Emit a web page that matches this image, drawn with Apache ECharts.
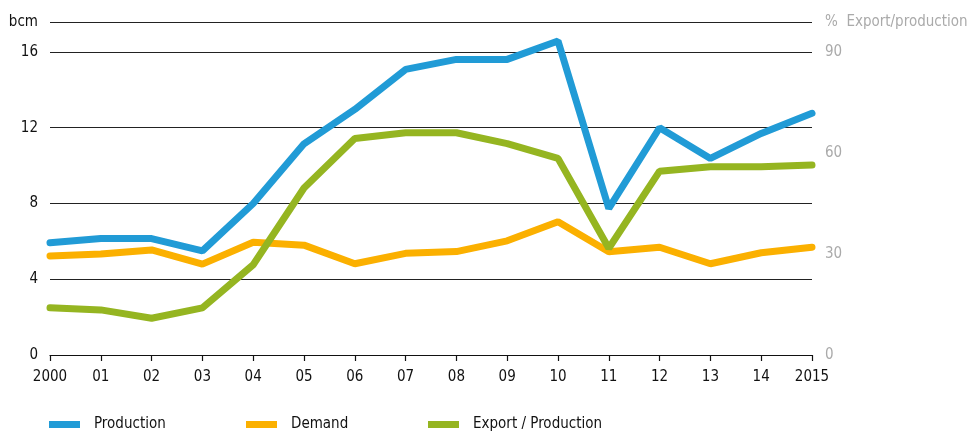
<!DOCTYPE html>
<html>
<head>
<meta charset="utf-8">
<script src="https://cdn.jsdelivr.net/npm/echarts@6/dist/echarts.min.js"></script>
<style>
html,body{margin:0;padding:0;background:#fff;}
#chart{width:971px;height:432px;}
</style>
</head>
<body>
<div id="chart"></div>
<script>
var years = ['2000','01','02','03','04','05','06','07','08','09','10','11','12','13','14','2015'];
var production = [5.93, 6.15, 6.15, 5.5, 8.0, 11.15, 12.97, 15.08, 15.61, 15.61, 16.58, 7.74, 12.0, 10.38, 11.7, 12.76];
var demand = [5.23, 5.33, 5.55, 4.8, 5.95, 5.8, 4.82, 5.37, 5.46, 6.03, 7.04, 5.45, 5.69, 4.82, 5.4, 5.69];
var exportShare = [14.0, 13.4, 10.9, 14.0, 26.8, 49.6, 64.3, 66.0, 66.0, 62.8, 58.4, 31.7, 54.6, 55.9, 55.9, 56.4];
var leftTicks = [0, 4, 8, 12, 16];
var rightTicks = [0, 30, 60, 90];
// axis tops reach the header rule above the last labelled tick
var leftTop = 17.584;
var rightTop = 98.91;

var FONT = '"Liberation Sans Narrow", "DejaVu Sans Condensed", sans-serif';
var FS = 15;
var chart = echarts.init(document.getElementById('chart'), null, {renderer: 'canvas'});

function legendFor(name, left) {
  return {
    data: [name], left: left, top: 417, padding: 0, itemWidth: 31, itemHeight: 7, itemGap: 0,
    icon: 'rect', textStyle: {fontFamily: FONT, fontSize: FS, color: '#111', padding: [0, 0, 0, 9]},
    selectedMode: false
  };
}

function tickLabel(list) {
  return function (v) { return list.indexOf(Math.round(v * 1000) / 1000) >= 0 ? String(v) : ''; };
}

chart.setOption({
  animation: false,
  textStyle: {fontFamily: FONT},
  grid: {left: 50, right: 159, top: 22, bottom: 77, outerBoundsMode: 'none', containLabel: false},
  legend: [legendFor('Production', 49), legendFor('Demand', 246), legendFor('Export / Production', 428)],
  xAxis: {
    type: 'category', data: years, boundaryGap: false,
    axisLine: {lineStyle: {color: '#111', width: 1.2}},
    axisTick: {show: true, alignWithLabel: true, length: 6, lineStyle: {color: '#111', width: 1.2}},
    axisLabel: {color: '#111', fontSize: FS, fontFamily: FONT, margin: 15, interval: 0},
    splitLine: {show: false}
  },
  yAxis: [{
    type: 'value', min: 0, max: leftTop, interval: 4,
    name: 'bcm', nameLocation: 'end', nameGap: 0,
    nameTextStyle: {align: 'right', verticalAlign: 'middle', padding: [0, 12, 0, 0], fontSize: FS, color: '#111', fontFamily: FONT},
    axisLine: {show: false}, axisTick: {show: false},
    axisLabel: {color: '#111', fontSize: FS, fontFamily: FONT, margin: 12, formatter: tickLabel(leftTicks)},
    splitLine: {lineStyle: {color: '#222', width: 1.2}}
  }, {
    type: 'value', min: 0, max: rightTop, interval: 30, position: 'right',
    name: '%  Export/production', nameLocation: 'end', nameGap: 0,
    nameTextStyle: {align: 'left', verticalAlign: 'middle', padding: [0, 0, 0, 13], fontSize: FS, color: '#aaa', fontFamily: FONT},
    axisLine: {show: false}, axisTick: {show: false},
    axisLabel: {color: '#aaa', fontSize: FS, fontFamily: FONT, margin: 13, formatter: tickLabel(rightTicks)},
    splitLine: {show: false}
  }],
  series: [{
    name: 'Production', type: 'line', data: production, yAxisIndex: 0, clip: false,
    symbol: 'none', color: '#219bd6', lineStyle: {width: 7, color: '#219bd6', cap: 'round'}, z: 3
  }, {
    name: 'Demand', type: 'line', data: demand, yAxisIndex: 0, clip: false,
    symbol: 'none', color: '#fbb000', lineStyle: {width: 7, color: '#fbb000', cap: 'round'}, z: 2
  }, {
    name: 'Export / Production', type: 'line', data: exportShare, yAxisIndex: 1, clip: false,
    symbol: 'none', color: '#95b521', lineStyle: {width: 7, color: '#95b521', cap: 'round'}, z: 2
  }]
});
</script>
</body>
</html>
